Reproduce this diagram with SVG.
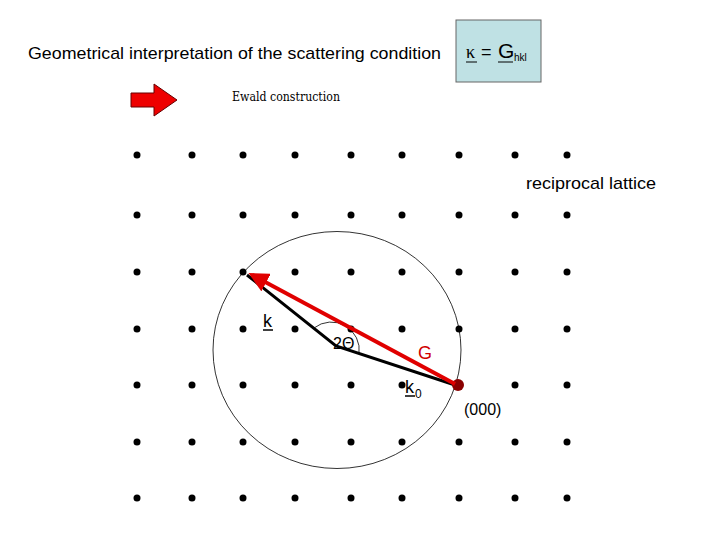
<svg xmlns="http://www.w3.org/2000/svg" width="720" height="540" viewBox="0 0 720 540">
<style>
.s{font-family:"Liberation Sans",Arial,sans-serif;fill:#000}
.d{fill:#000}
</style>
<defs>
<marker id="ah" markerWidth="5" markerHeight="5" refX="4" refY="2.5" orient="auto" markerUnits="strokeWidth"><path d="M0,0 L5,2.5 L0,5 z" fill="#e00000"/></marker>
<g id="row"><circle cx="137" cy="0" r="3.5"/><circle cx="192" cy="0" r="3.5"/><circle cx="243" cy="0" r="3.5"/><circle cx="295" cy="0" r="3.5"/><circle cx="351" cy="0" r="3.5"/><circle cx="402" cy="0" r="3.5"/><circle cx="459" cy="0" r="3.5"/><circle cx="515" cy="0" r="3.5"/><circle cx="567" cy="0" r="3.5"/></g>
</defs>
<rect width="720" height="540" fill="#fff"/>
<g id="title"><text class="s" x="28" y="59" font-size="17" textLength="413" lengthAdjust="spacingAndGlyphs">Geometrical interpretation of the scattering condition</text></g>
<g id="formula">
<rect x="456" y="20" width="85" height="62" fill="#bfe1e4" stroke="#666" stroke-width="1"/>
<text x="466" y="58" font-family="'Liberation Serif',serif" font-size="18">κ</text><line x1="466" y1="62" x2="477" y2="62" stroke="#000"/>
<text class="s" x="481" y="58" font-size="18">=</text>
<text class="s" x="498" y="58" font-size="21">G</text><line x1="498" y1="62" x2="513" y2="62" stroke="#000"/>
<text class="s" x="514" y="61" font-size="10">hkl</text>
</g>
<g id="ewald">
<path d="M131,93 L154,93 L154,84 L177,100 L154,116 L154,107 L131,107 Z" fill="#ee0000" stroke="#600" stroke-width="1"/>
<text x="232" y="101" font-family="'DejaVu Serif','Liberation Serif',serif" font-size="12" textLength="108" lengthAdjust="spacingAndGlyphs">Ewald construction</text>
</g>
<g id="lattice" class="d">
<use href="#row" y="155"/><use href="#row" y="215"/><use href="#row" y="272"/><use href="#row" y="329"/><use href="#row" y="385"/><use href="#row" y="442"/><use href="#row" y="498"/>
</g>
<g id="labels">
<text class="s" x="526" y="189" font-size="17" textLength="130" lengthAdjust="spacingAndGlyphs">reciprocal lattice</text>
<text class="s" x="263" y="327" font-size="18">k</text><line x1="263" y1="330" x2="273" y2="330" stroke="#000" stroke-width="1.5"/>
<text class="s" x="405" y="393" font-size="18">k</text><line x1="405" y1="396" x2="415" y2="396" stroke="#000" stroke-width="1.5"/>
<text class="s" x="415" y="398" font-size="12">0</text>
<text class="s" x="418" y="359" font-size="18" style="fill:#d00000">G</text>
<text class="s" x="333" y="349" font-size="16">2Θ</text>
<text class="s" x="464" y="415" font-size="16">(000)</text>
</g>
<g id="connectors">
<ellipse cx="337" cy="350" rx="124" ry="118.5" fill="none" stroke="#000" stroke-width="0.8"/>
<path d="M314,328 A28,28 0 0 1 359,354" fill="none" stroke="#000" stroke-width="0.8"/>
<polyline points="247,275 336,346 455,385" fill="none" stroke="#000" stroke-width="3"/>
<circle cx="458" cy="385" r="6" fill="#8a0000"/>
<line x1="455" y1="384" x2="252" y2="275" stroke="#e00000" stroke-width="4" marker-end="url(#ah)"/>
</g>
</svg>
